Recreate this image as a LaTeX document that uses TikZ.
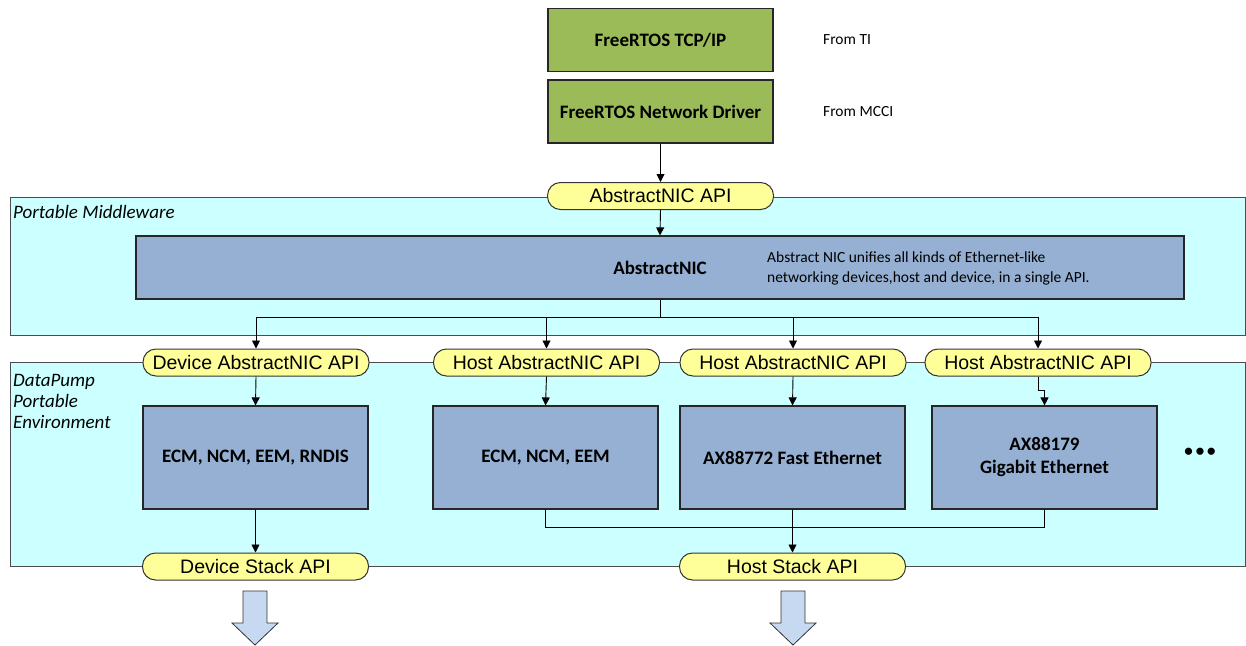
\documentclass[tikz,border=0pt]{standalone}
\usepackage{fontspec}
\setmainfont{Carlito}
\newfontfamily\arialfont{Liberation Sans}
\usetikzlibrary{arrows.meta}

\definecolor{nicgreen}{HTML}{9BBB59}
\definecolor{nicblue}{HTML}{95B0D2}
\definecolor{pillyellow}{HTML}{FFFF99}
\definecolor{regioncyan}{HTML}{CCFFFF}
\definecolor{flowblue}{HTML}{C6D9F1}

\tikzset{
  greenbox/.style={draw=black!85, line width=1.2pt, fill=nicgreen, minimum width=225pt, minimum height=63pt, font=\fontsize{19}{22}\selectfont\bfseries},
  bluebox/.style={draw=black!85, line width=1.2pt, fill=nicblue, minimum width=225pt, minimum height=103pt, align=center, font=\fontsize{19}{23}\selectfont\bfseries},
  apipill/.style={draw=black!80, line width=1pt, fill=pillyellow, rounded corners=13pt, minimum width=226pt, minimum height=27pt, inner sep=0pt, font=\arialfont\fontsize{19.5}{22}\selectfont},
  region/.style={draw=black!70, line width=0.9pt, fill=regioncyan},
  regionlabel/.style={anchor=west, inner sep=0pt, align=left, font=\fontsize{19}{21}\selectfont\itshape},
  note/.style={anchor=west, inner sep=0pt, align=left, font=\fontsize{15.5}{20}\selectfont},
  link/.style={line width=0.9pt, -{Triangle[length=8pt,width=8pt]}},
  plain/.style={line width=0.9pt},
  bigarrow/.style={draw=black!80, line width=0.8pt, fill=flowblue},
}

\begin{document}
\begin{tikzpicture}[x=1pt,y=-1pt]

\useasboundingbox (0,0) rectangle (1246,645);

% stack on top
\node[greenbox] (tcpip) at (660.5,40) {FreeRTOS TCP/IP};
\node[greenbox] (netdrv) at (660.5,111.5) {FreeRTOS Network Driver};
\node[note] (fromti) at (823,40) {From TI};
\node[note] (frommcci) at (823,112) {From MCCI};

% the two layers
\draw[region] (10,197) rectangle (1245,335);
\node[regionlabel] (pmlabel) at (13,212) {Portable Middleware};
\draw[region] (10,362) rectangle (1245,566);
\node[regionlabel, anchor=north west] (dplabel) at (13,374) {DataPump\\Portable\\Environment};

\node[apipill] (nicapi) at (660.5,196) {AbstractNIC API};

\node[draw=black!85, line width=1.2pt, fill=nicblue, minimum width=1048pt, minimum height=63pt] (anic) at (660,267.5) {};
\node[font=\fontsize{19}{22}\selectfont\bfseries] (anictitle) at (660,268) {AbstractNIC};
\node[note, font=\fontsize{15.5}{20}\selectfont] (anicnote) at (767,268) {Abstract NIC unifies all kinds of Ethernet-like\\networking devices,host and device, in a single API.};

\draw[link] (netdrv.south) -- (nicapi.north);
\draw[link] (nicapi.south) -- (anic.north);

% API row
\node[apipill] (devapi) at (256,362.5) {Device AbstractNIC API};
\node[apipill] (hostapia) at (546.5,362.5) {Host AbstractNIC API};
\node[apipill] (hostapib) at (793,362.5) {Host AbstractNIC API};
\node[apipill] (hostapic) at (1038,362.5) {Host AbstractNIC API};

\coordinate (fork) at (660,317);
\draw[plain] (anic.south) -- (fork);
\foreach \api in {devapi,hostapia,hostapib,hostapic}{
  \draw[link] (fork) -| (\api.north);
}

% drivers
\node[bluebox] (ecmdev) at (255.5,457.5) {ECM, NCM, EEM, RNDIS};
\node[bluebox] (ecmhost) at (545.5,457.5) {ECM, NCM, EEM};
\node[bluebox] (axfast) at (792.5,457.5) {AX88772 Fast Ethernet};
\node[bluebox] (axgig) at (1044.5,457.5) {AX88179\\Gigabit Ethernet};
\node[font=\fontsize{17}{20}\selectfont\bfseries] (more) at (1200,452) {•\,•\,•};

\draw[link] (devapi.south) -- (ecmdev.north);
\draw[link] (hostapia.south) -- (ecmhost.north);
\draw[link] (hostapib.south) -- (axfast.north);
\draw[link] (hostapic.south) -- ++(0,14) -| (axgig.north);

% stack APIs
\node[apipill] (devstack) at (255.5,566.5) {Device Stack API};
\node[apipill] (hoststack) at (792.5,566.5) {Host Stack API};

\coordinate (join) at (792.5,527);
\draw[plain] (ecmhost.south) |- (join);
\draw[plain] (axgig.south) |- (join);
\draw[link] (ecmdev.south) -- (devstack.north);
\draw[link] (axfast.south) -- (hoststack.north);

% down to the stacks
\foreach \x in {255,793}{
  \draw[bigarrow] (\x-12,591) -- (\x+12,591) -- (\x+12,623) -- (\x+23,623) -- (\x,645) -- (\x-23,623) -- (\x-12,623) -- cycle;
}

\end{tikzpicture}
\end{document}
